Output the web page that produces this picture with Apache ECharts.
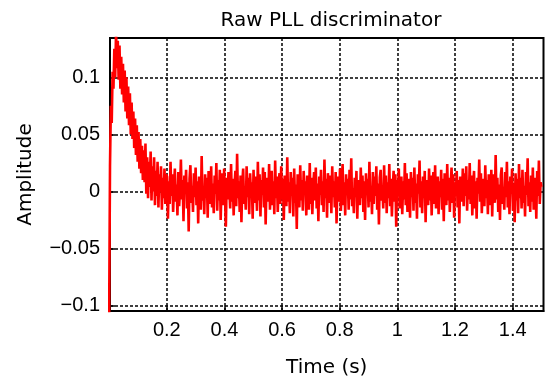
<!DOCTYPE html>
<html><head><meta charset="utf-8">
<script src="https://cdn.jsdelivr.net/npm/echarts@6/dist/echarts.min.js"></script>
<style>html,body{margin:0;padding:0;background:#fff}#c{width:548px;height:383px}</style>
</head><body><div id="c"></div>
<script>
const TITLE = 'Raw PLL discriminator';
const X_NAME = 'Time (s)';
const Y_NAME = 'Amplitude';
const SAMPLE_STEP = 0.003; // seconds between samples
const X_TICKS = [0.2, 0.4, 0.6, 0.8, 1, 1.2, 1.4];
const Y_TICKS = [-0.1, -0.05, 0, 0.05, 0.1];
const ampTransient = [
-.11,.022,.075,.06,.105,.09,.125,.1,.14,.108,.132,.098,.128,.09,.118,.085,.112,.078,.106,.07,
.1,.064,.092,.058,.086,.05,.078,.046,.07,.038,.064,.032,.058,.026,.052,.02,.046,.016,.04,.01,
.036,.008,.042,-.002,.03,-.006,.026,.004,.035,-.008,.022,0,.03,-.012,.018,-.004,.026,-.014,.015,0,
.022,-.016,.012,-.006,.02,-.011,.015];
const ampSteady = [
.013,-.024,.009,-.011,.026,-.004,.015,-.018,.003,.02,-.009,.006,-.021,
.017,-.013,.002,.028,-.007,.01,-.026,.014,-.002,.019,-.015,.008,-.035,.011,.023,-.01,.005,-.018,.016,-.005,.021,-.012,.009,-.028,.013,.001,-.016,.031,-.008,.004,
-.02,.015,-.006,.012,-.023,.018,.003,-.011,.022,-.014,.007,-.019,.014,-.002,.025,-.017,.01,-.008,.019,-.025,.006,.016,-.012,.02,-.004,-.031,.012,-.007,.017,.002,
-.015,.024,-.009,.011,-.021,.005,.018,-.013,.033,-.006,.009,-.018,.014,-.027,.007,.02,-.011,.003,-.016,.022,-.005,.012,-.02,.016,-.001,.008,-.024,.019,-.01,.013,
.004,-.017,.026,-.008,.015,-.022,.01,-.003,.021,-.014,.017,-.029,.006,.012,-.009,.024,-.016,.002,.018,-.012,.009,-.02,.027,-.006,.013,-.018,.005,.016,-.011,.022,
-.007,.011,-.025,.014,.001,-.013,.03,-.009,.008,-.019,.017,-.004,.012,-.022,.02,-.01,.006,-.033,.015,.003,-.014,.023,-.008,.01,-.017,.018,-.002,.009,-.021,.014,
.006,-.016,.025,-.011,.012,-.02,.004,.017,-.008,.021,-.015,.007,-.026,.013,-.003,.019,-.012,.009,-.018,.028,-.006,.011,-.023,.016,.002,-.01,.014,-.019,.022,-.005,
.009,-.014,.017,-.028,.006,.013,-.009,.02,-.017,.004,.024,-.012,.008,-.021,.015,-.003,.011,-.016,.019,-.007,.029,-.013,.003,-.019,.012,-.005,.018,-.024,.01,.001,
-.012,.021,-.006,.014,-.018,.009,-.025,.016,-.002,.011,-.014,.026,-.009,.005,-.02,.017,-.011,.013,-.004,.022,-.016,.007,-.029,.012,.019,-.008,.004,-.015,.023,-.01,
.014,-.019,.008,-.006,.024,-.013,.011,-.022,.003,.018,-.009,.015,-.031,.01,-.004,.02,-.015,.006,.013,-.02,.009,-.007,.025,-.012,.016,-.018,.002,.011,-.023,.017,
-.005,.012,-.017,.021,-.01,.007,-.024,.015,-.002,.027,-.014,.009,-.019,.013,-.006,.018,-.027,.01,.004,-.012,.02,-.008,.014,-.021,.006,.017,-.011,.023,-.015,.003,
.013,-.02,.009,-.005,.019,-.016,.011,-.026,.016,.001,-.012,.024,-.008,.012,-.018,.006,.021,-.01,.015,-.023,.008,-.003,.018,-.014,.01,-.028,.013,.005,-.009,.02,
-.013,.016,-.004,.022,-.017,.01,-.007,.025,-.011,.014,-.021,.006,.018,-.015,.009,-.024,.012,-.002,.028,-.009,.016,-.019,.004,.011,-.013,.023,-.006,.01,-.02,.015,
.003,-.012,.019,-.022,.008,.015,-.01,.032,-.007,.012,-.018,.006,-.025,.014,.021,-.011,.004,-.016,.017,-.005,.026,-.014,.009,-.02,.013,-.002,.02,-.017,.007,-.027,
.016,-.008,.011,-.019,.024,-.006,.012,-.015,.019,-.01,.005,-.022,.017,-.003,.029,-.013,.008,-.018,.014,-.009,.021,-.016,.006,.012,-.024,.018,-.004,.027,-.011,.008,
.004];

const amplitude = ampTransient.concat(ampSteady);
const seriesData = amplitude.map((v, i) => [i * SAMPLE_STEP, v]);

const NAME_FONT = "'DejaVu Sans', sans-serif";
const TICK_FONT = "'Liberation Sans', Arial, sans-serif";
const fmt = v => String(v).replace('-', '\u2212');

const chart = echarts.init(document.getElementById('c'), null, {renderer: 'canvas'});
chart.setOption({
  animation: false,
  backgroundColor: '#fff',
  title: {
    text: TITLE, left: 326, top: 6, textAlign: 'center',
    textStyle: {fontFamily: NAME_FONT, fontSize: 20, fontWeight: 'normal', color: '#000'}
  },
  grid: {left: 110, right: 4.5, top: 38, bottom: 69.5, show: true, borderColor: '#000', borderWidth: 2, containLabel: false},
  xAxis: {
    type: 'value', min: 0.003, max: 1.507,
    name: X_NAME, nameLocation: 'middle', nameGap: 47,
    nameTextStyle: {fontFamily: NAME_FONT, fontSize: 20, color: '#000'},
    axisLine: {show: true, onZero: false, lineStyle: {color: '#000', width: 2}},
    axisTick: {show: true, inside: true, length: 5, customValues: X_TICKS, lineStyle: {color: '#000', width: 1.5}},
    axisLabel: {customValues: X_TICKS, formatter: fmt, fontFamily: TICK_FONT, fontSize: 20, color: '#000', margin: 9},
    splitLine: {show: true, lineStyle: {color: '#000', width: 1.5, type: [3, 2]}}
  },
  yAxis: {
    type: 'value', min: -0.1048, max: 0.1345,
    name: Y_NAME, nameLocation: 'middle', nameGap: 74, nameRotate: 90,
    nameTextStyle: {fontFamily: NAME_FONT, fontSize: 20, color: '#000'},
    axisLine: {show: true, onZero: false, lineStyle: {color: '#000', width: 2}},
    axisTick: {show: true, inside: true, length: 5, customValues: Y_TICKS, lineStyle: {color: '#000', width: 1.5}},
    axisLabel: {customValues: Y_TICKS, formatter: fmt, fontFamily: TICK_FONT, fontSize: 20, color: '#000', margin: 10},
    splitLine: {show: true, lineStyle: {color: '#000', width: 1.5, type: [3, 2]}}
  },
  series: [{
    type: 'line', data: seriesData, showSymbol: false, sampling: null,
    lineStyle: {color: '#ff0000', width: 2.6}, itemStyle: {color: '#ff0000'},
    clip: true, z: 3
  }]
});
</script>
</body></html>
